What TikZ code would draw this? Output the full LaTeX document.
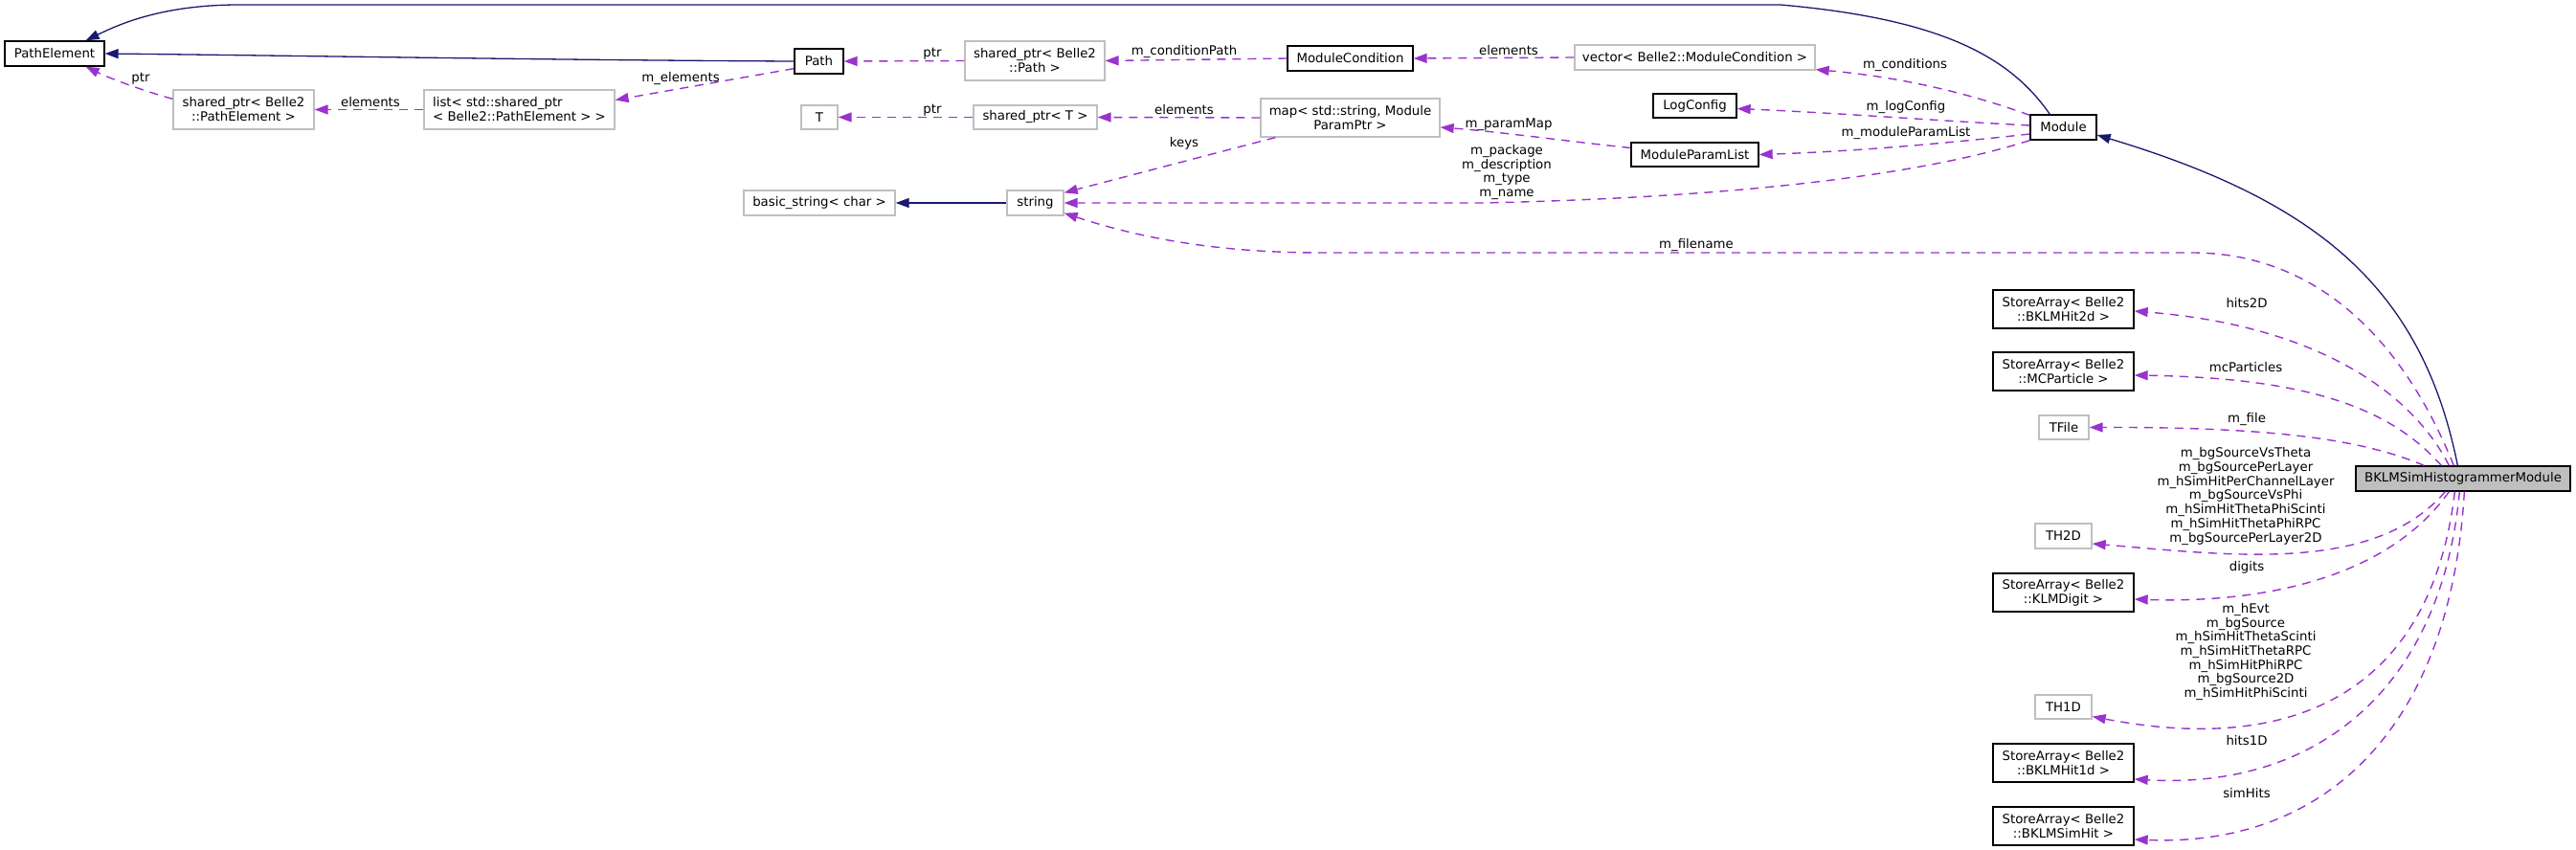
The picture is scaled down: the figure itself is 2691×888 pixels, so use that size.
\documentclass[tikz,border=0pt]{standalone}
\usepackage{fontspec}
\setmainfont{DejaVu Sans}
\usetikzlibrary{arrows.meta,calc}
\definecolor{inhblue}{HTML}{191970}
\definecolor{usepurple}{HTML}{9A32CD}
\definecolor{ugrey}{HTML}{BFBFBF}
\newcommand\nfont{\fontsize{13.3}{15}\selectfont}
\newcommand\lfont{\fontsize{13.3}{14.7}\selectfont}
\tikzset{
  doc/.style={draw=black, line width=1.3pt, fill=white, inner sep=0pt, align=center, font=\nfont},
  undoc/.style={doc, draw=ugrey},
  cur/.style={doc, fill=ugrey},
  inh/.style={draw=inhblue, line width=1.3pt, -{Triangle[length=14pt,width=10pt]}},
  use/.style={draw=usepurple, line width=1.4pt, dash pattern=on 9pt off 7pt, -{Triangle[length=14pt,width=10pt]}},
  lbl/.style={font=\lfont, align=center, inner sep=0pt},
}
\begin{document}
\begin{tikzpicture}[x=1pt,y=-1pt]
\useasboundingbox (0,0) rectangle (2691,888);
% nodes
\node[doc, minimum width=104pt, minimum height=26pt] (pe) at (57,56) {PathElement};
\node[undoc, minimum width=147pt, minimum height=41pt] (spe) at (254.5,114.5) {shared\_ptr< Belle2\\::PathElement >};
\node[undoc, minimum width=199pt, minimum height=41pt, align=left] (lst) at (542.5,114.5) {list< std::shared\_ptr\\< Belle2::PathElement > >};
\node[doc, minimum width=51pt, minimum height=26pt] (path) at (855.5,64) {Path};
\node[undoc, minimum width=146pt, minimum height=41pt] (spp) at (1081,63.5) {shared\_ptr< Belle2\\::Path >};
\node[doc, minimum width=131pt, minimum height=26pt] (mc) at (1410.5,61) {ModuleCondition};
\node[undoc, minimum width=251pt, minimum height=26pt] (vec) at (1770.5,60) {vector< Belle2::ModuleCondition >};
\node[undoc, minimum width=38pt, minimum height=25pt] (T) at (856,122.5) {T};
\node[undoc, minimum width=129pt, minimum height=25pt] (spt) at (1081.5,122.5) {shared\_ptr< T >};
\node[undoc, minimum width=187pt, minimum height=40pt] (map) at (1410.5,123) {map< std::string, Module\\ParamPtr >};
\node[doc, minimum width=87pt, minimum height=25pt] (log) at (1770.5,110.5) {LogConfig};
\node[doc, minimum width=133pt, minimum height=25pt] (mpl) at (1770.5,161.5) {ModuleParamList};
\node[doc, minimum width=69pt, minimum height=26pt] (mod) at (2155.5,133) {Module};
\node[undoc, minimum width=158pt, minimum height=26pt] (bs) at (856,212) {basic\_string< char >};
\node[undoc, minimum width=59pt, minimum height=26pt] (str) at (1081.5,212) {string};
\node[doc, minimum width=147pt, minimum height=40pt] (h2d) at (2155.5,323) {StoreArray< Belle2\\::BKLMHit2d >};
\node[doc, minimum width=147pt, minimum height=40pt] (mcp) at (2155.5,388) {StoreArray< Belle2\\::MCParticle >};
\node[undoc, minimum width=52pt, minimum height=25pt] (tfile) at (2156,446.5) {TFile};
\node[cur, minimum width=224pt, minimum height=26pt] (bk) at (2573,500) {BKLMSimHistogrammerModule};
\node[undoc, minimum width=59pt, minimum height=26pt] (th2) at (2155.5,560) {TH2D};
\node[doc, minimum width=147pt, minimum height=40pt] (dig) at (2155.5,619) {StoreArray< Belle2\\::KLMDigit >};
\node[undoc, minimum width=59pt, minimum height=25pt] (th1) at (2155.5,738.5) {TH1D};
\node[doc, minimum width=147pt, minimum height=40pt] (h1d) at (2155.5,797) {StoreArray< Belle2\\::BKLMHit1d >};
\node[doc, minimum width=147pt, minimum height=40pt] (sim) at (2155.5,863) {StoreArray< Belle2\\::BKLMSimHit >};
% inheritance
\draw[inh] (path.west) .. controls (600,63) and (300,58) .. (pe.east);
\draw[inh] (str.west) -- (bs.east);
\draw[inh] ($(mod.north west)+(21,0)$) .. controls (2100,60) and (2030,20) .. (1860,5) -- (250,5) .. controls (170,5) and (125,25) .. ($(pe.north east)+(-20,0)$);
\draw[inh] ($(bk.north west)+(107,0)$) .. controls (2530,300) and (2420,210) .. ($(mod.east)+(0,8)$);
% usage
\draw[use] ($(spe.north west)+(0,10)$) .. controls (150,95) and (115,82) .. ($(pe.south east)+(-20,0)$);
\draw[use] (lst.west) -- (spe.east);
\draw[use] ($(path.south west)+(0,-6)$) -- ($(lst.east)+(0,-10)$);
\draw[use] (spp.west) -- (path.east);
\draw[use] (mc.west) -- (spp.east);
\draw[use] (vec.west) -- (mc.east);
\draw[use] (spt.west) -- (T.east);
\draw[use] (map.west) -- (spt.east);
\draw[use] ($(map.south west)+(16,0)$) -- ($(str.north east)+(0,3)$);
\draw[use] ($(mpl.west)+(0,-7)$) .. controls (1640,148) and (1570,138) .. ($(map.east)+(0,10)$);
\draw[use] ($(mod.north west)+(0,1)$) .. controls (2050,95) and (1980,80) .. ($(vec.south east)+(0,-1)$);
\draw[use] ($(mod.west)+(0,-2)$) .. controls (2020,126) and (1920,118) .. ($(log.east)+(0,3)$);
\draw[use] ($(mod.west)+(0,7)$) .. controls (2030,150) and (1940,158) .. (mpl.east);
\draw[use] (mod.south west) .. controls (2010,182) and (1820,206) .. (1550,212) -- (str.east);
\draw[use] ($(bk.north west)+(103,0)$) .. controls (2500,330) and (2400,264) .. (2290,264) -- (1380,264) .. controls (1260,264) and (1180,245) .. ($(str.south east)+(0,-3)$);
\draw[use] ($(bk.north west)+(98,0)$) .. controls (2520,410) and (2420,340) .. ($(h2d.east)+(0,2)$);
\draw[use] ($(bk.north west)+(90,0)$) .. controls (2500,430) and (2420,395) .. ($(mcp.east)+(0,4)$);
\draw[use] ($(bk.north west)+(72,0)$) .. controls (2470,460) and (2380,446) .. (tfile.east);
\draw[use] ($(bk.south west)+(94,0)$) .. controls (2480,600) and (2330,580) .. ($(th2.east)+(0,8)$);
\draw[use] ($(bk.south west)+(98,0)$) .. controls (2490,610) and (2350,630) .. ($(dig.east)+(0,7)$);
\draw[use] ($(bk.south west)+(104,0)$) .. controls (2540,720) and (2400,790) .. ($(th1.east)+(0,10)$);
\draw[use] ($(bk.south west)+(109,0)$) .. controls (2550,720) and (2420,825) .. ($(h1d.east)+(0,17)$);
\draw[use] ($(bk.south west)+(114,0)$) .. controls (2560,760) and (2430,885) .. ($(sim.east)+(0,14)$);
% labels
\node[lbl] (l1) at (147,82) {ptr};
\node[lbl] (l2) at (387,107) {elements};
\node[lbl] (l3) at (711,82) {m\_elements};
\node[lbl] (l4) at (974,56) {ptr};
\node[lbl] (l5) at (1237,54) {m\_conditionPath};
\node[lbl] (l6) at (1576,53) {elements};
\node[lbl] (l7) at (974,115) {ptr};
\node[lbl] (l8) at (1237,115) {elements};
\node[lbl] (l9) at (1237,150) {keys};
\node[lbl] (l10) at (1576,130) {m\_paramMap};
\node[lbl] (l11) at (1990,68) {m\_conditions};
\node[lbl] (l12) at (1991,112) {m\_logConfig};
\node[lbl] (l13) at (1991,139) {m\_moduleParamList};
\node[lbl] (l14) at (1574,180) {m\_package\\m\_description\\m\_type\\m\_name};
\node[lbl] (l15) at (1772,256) {m\_filename};
\node[lbl] (l16) at (2347,317) {hits2D};
\node[lbl] (l17) at (2346,384) {mcParticles};
\node[lbl] (l18) at (2347,438) {m\_file};
\node[lbl] (l19) at (2346,518.5) {m\_bgSourceVsTheta\\m\_bgSourcePerLayer\\m\_hSimHitPerChannelLayer\\m\_bgSourceVsPhi\\m\_hSimHitThetaPhiScinti\\m\_hSimHitThetaPhiRPC\\m\_bgSourcePerLayer2D};
\node[lbl] (l20) at (2347,593) {digits};
\node[lbl] (l21) at (2346,681) {m\_hEvt\\m\_bgSource\\m\_hSimHitThetaScinti\\m\_hSimHitThetaRPC\\m\_hSimHitPhiRPC\\m\_bgSource2D\\m\_hSimHitPhiScinti};
\node[lbl] (l22) at (2347,774) {hits1D};
\node[lbl] (l23) at (2347,829) {simHits};
\end{tikzpicture}
\end{document}
